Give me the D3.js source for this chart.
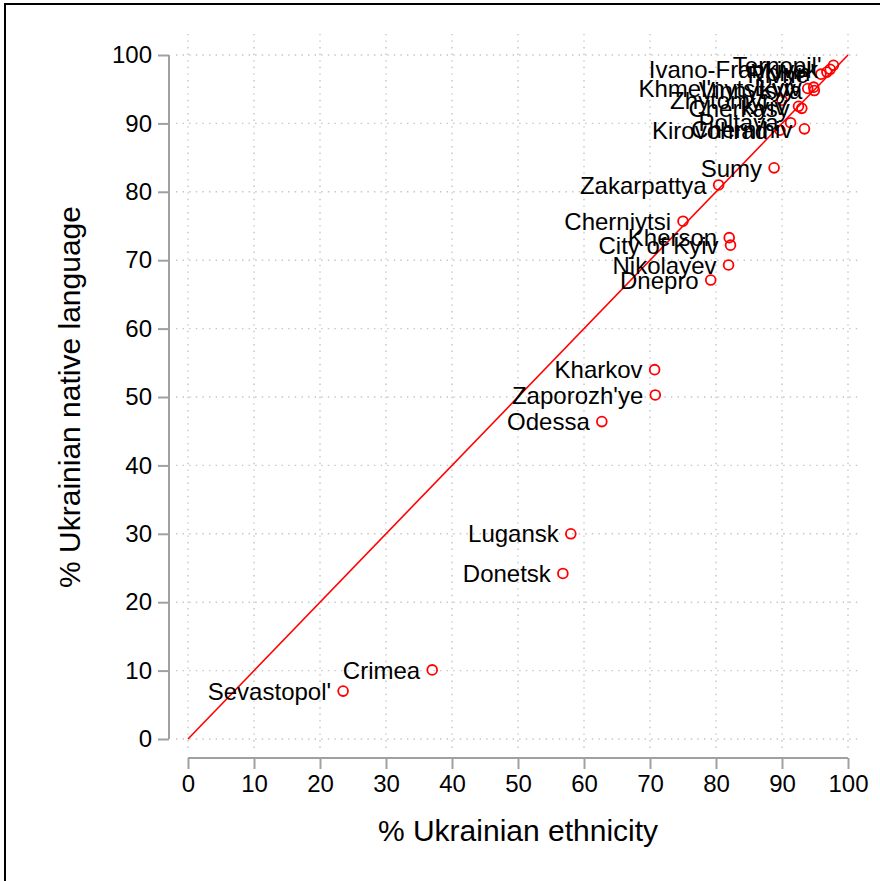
<!DOCTYPE html>
<html>
<head>
<meta charset="utf-8">
<script src="https://cdn.jsdelivr.net/npm/d3@7"></script>
<style>
  body { margin: 0; background: #fff; }
  svg { display: block; font-family: "Liberation Sans", Arial, sans-serif; }
</style>
</head>
<body>
<svg id="chart"></svg>
<script>
// region names, % Ukrainian ethnicity, % Ukrainian native language
const regions = ["Sevastopol'", "Crimea", "Donetsk", "Lugansk", "Odessa", "Zaporozh'ye", "Kharkov",
  "Dnepro", "Nikolayev", "City of Kyiv", "Kherson", "Cherniytsi", "Zakarpattya", "Sumy",
  "Ternopil'", "Ivano-Frankivsk", "Volyn'", "Rivne", "L'viv", "Khmel'nyts'kyy", "Vinnytsya",
  "Zhytomyr", "Kyiv", "Cherkasy", "Poltava", "Kirovohrad", "Chernihiv"];
const ethnicity = [23.5, 37.0, 56.8, 58.0, 62.7, 70.8, 70.7,
  79.2, 81.9, 82.2, 82.0, 75.0, 80.4, 88.8,
  97.8, 97.3, 96.8, 95.9, 94.8, 93.9, 94.9,
  90.0, 92.5, 93.0, 91.3, 89.7, 93.4];
const nativeLang = [7.0, 10.1, 24.2, 30.0, 46.4, 50.3, 54.0,
  67.1, 69.3, 72.2, 73.3, 75.7, 81.0, 83.5,
  98.5, 97.9, 97.5, 97.2, 95.3, 95.1, 94.8,
  93.4, 92.5, 92.2, 90.1, 89.0, 89.2];
const ticks = [0, 10, 20, 30, 40, 50, 60, 70, 80, 90, 100];
const gridSteps = ticks;

const W = 880, H = 881;
const svg = d3.select("#chart").attr("width", W).attr("height", H);

// outer frame, runs off the right and bottom edges
svg.append("rect")
  .attr("x", 5).attr("y", 4)
  .attr("width", W + 20).attr("height", H + 20)
  .attr("fill", "#fff").attr("stroke", "#000").attr("stroke-width", 2);

const x = d3.scaleLinear().domain([0, 100]).range([188, 848]);
const y = d3.scaleLinear().domain([0, 100]).range([739, 55]);

// dotted grid
const grid = svg.append("g").attr("stroke", "#c4c4c4").attr("stroke-width", 1.4)
  .attr("stroke-dasharray", "1.4 5.2").attr("stroke-linecap", "butt");
grid.selectAll("line.v").data(gridSteps).join("line")
  .attr("x1", d => x(d)).attr("x2", d => x(d))
  .attr("y1", 748).attr("y2", 34);
grid.selectAll("line.h").data(gridSteps).join("line")
  .attr("y1", d => y(d)).attr("y2", d => y(d))
  .attr("x1", 176).attr("x2", 862);

// axes
const axisColor = "#a0a0a0";
const xAxis = svg.append("g").attr("transform", "translate(0,758)")
  .call(d3.axisBottom(x).tickValues(ticks).tickSize(11).tickPadding(4).tickFormat(d3.format("d")));
const yAxis = svg.append("g").attr("transform", "translate(169,0)")
  .call(d3.axisLeft(y).tickValues(ticks).tickSize(11).tickPadding(6).tickFormat(d3.format("d")));
[xAxis, yAxis].forEach(a => {
  a.select(".domain").attr("stroke", axisColor).attr("stroke-width", 2)
    .attr("d", a === xAxis ? `M${x(0)},0H${x(100)}` : `M0,${y(0)}V${y(100)}`);
  a.selectAll(".tick line").attr("stroke", axisColor).attr("stroke-width", 2);
  a.selectAll(".tick text").attr("fill", "#000").style("font-size", "24px")
    .style("font-family", "'Liberation Sans', Arial, sans-serif");
});
xAxis.selectAll(".tick text").attr("dy", "0.8em");

// 45 degree reference line
svg.append("line")
  .attr("x1", x(0)).attr("y1", y(0)).attr("x2", x(100)).attr("y2", y(100))
  .attr("stroke", "#ff0000").attr("stroke-width", 1.6);

const data = regions.map((r, i) => ({ name: r, eth: ethnicity[i], lang: nativeLang[i] }));

svg.append("g").selectAll("circle").data(data).join("circle")
  .attr("cx", d => x(d.eth)).attr("cy", d => y(d.lang)).attr("r", 4.9)
  .attr("fill", "none").attr("stroke", "#ff0000").attr("stroke-width", 1.8);

svg.append("g").selectAll("text").data(data).join("text")
  .attr("x", d => x(d.eth) - 12).attr("y", d => y(d.lang))
  .attr("dy", "0.36em").attr("text-anchor", "end")
  .style("font-size", "24px").attr("fill", "#000")
  .text(d => d.name);

// axis titles
svg.append("text").attr("x", (x(0) + x(100)) / 2).attr("y", 841)
  .attr("text-anchor", "middle").style("font-size", "30px")
  .text("% Ukrainian ethnicity");
svg.append("text")
  .attr("transform", `translate(80,${(y(0) + y(100)) / 2}) rotate(-90)`)
  .attr("text-anchor", "middle").style("font-size", "30px")
  .text("% Ukrainian native language");
</script>
</body>
</html>
